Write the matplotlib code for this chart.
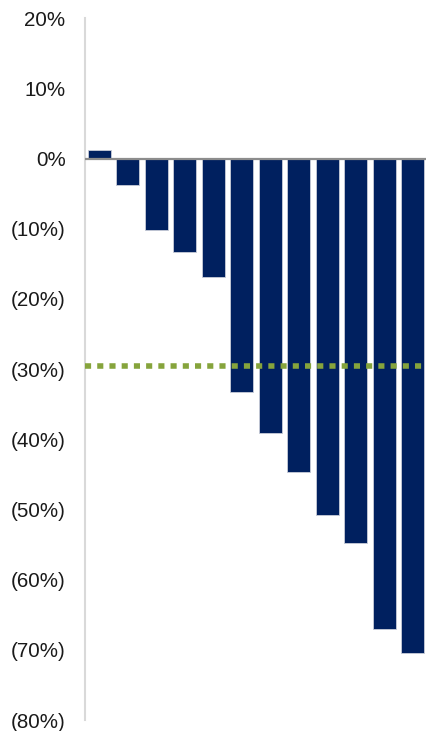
import matplotlib
matplotlib.use('Agg')
import matplotlib.pyplot as plt
import numpy as np

plt.rcParams['font.family'] = ['Liberation Sans', 'DejaVu Sans']

# values (fractions)
values = [0.012, -0.037, -0.102, -0.133, -0.169, -0.333, -0.391, -0.447,
          -0.508, -0.548, -0.670, -0.704]
threshold = -0.296
yticks = [0.2, 0.1, 0.0, -0.1, -0.2, -0.3, -0.4, -0.5, -0.6, -0.7, -0.8]

navy = '#00205F'
green = '#86A43C'

fig = plt.figure(figsize=(4.27, 7.31), dpi=100)
ax = fig.add_axes([0.199, 0.015, 0.801, 0.96])

x = np.arange(len(values))
ax.bar(x, values, width=0.82, color=navy, edgecolor='#C8CDD8', linewidth=0.6, zorder=2)
ax.axhline(0, color='#8C8C8C', lw=1.6, zorder=3)
ax.axhline(threshold, color=green, lw=4, linestyle=(0, (1.1, 1.1)),
           dash_capstyle='butt', zorder=4)

ax.set_xlim(-0.5, len(values) - 0.5)
ax.set_ylim(-0.8, 0.2)


def pct(v):
    p = round(v * 100)
    return f'{p}%' if p >= 0 else f'({-p}%)'


ax.set_yticks(yticks)
ax.set_yticklabels([pct(v) for v in yticks], fontsize=14.8, color='#1A1A1A')
ax.tick_params(axis='y', length=0, pad=14)
ax.set_xticks([])

for side in ['top', 'right', 'bottom']:
    ax.spines[side].set_visible(False)
ax.spines['left'].set_color('#D9D9D9')
ax.spines['left'].set_linewidth(1.5)

fig.savefig('out.png', dpi=100)
